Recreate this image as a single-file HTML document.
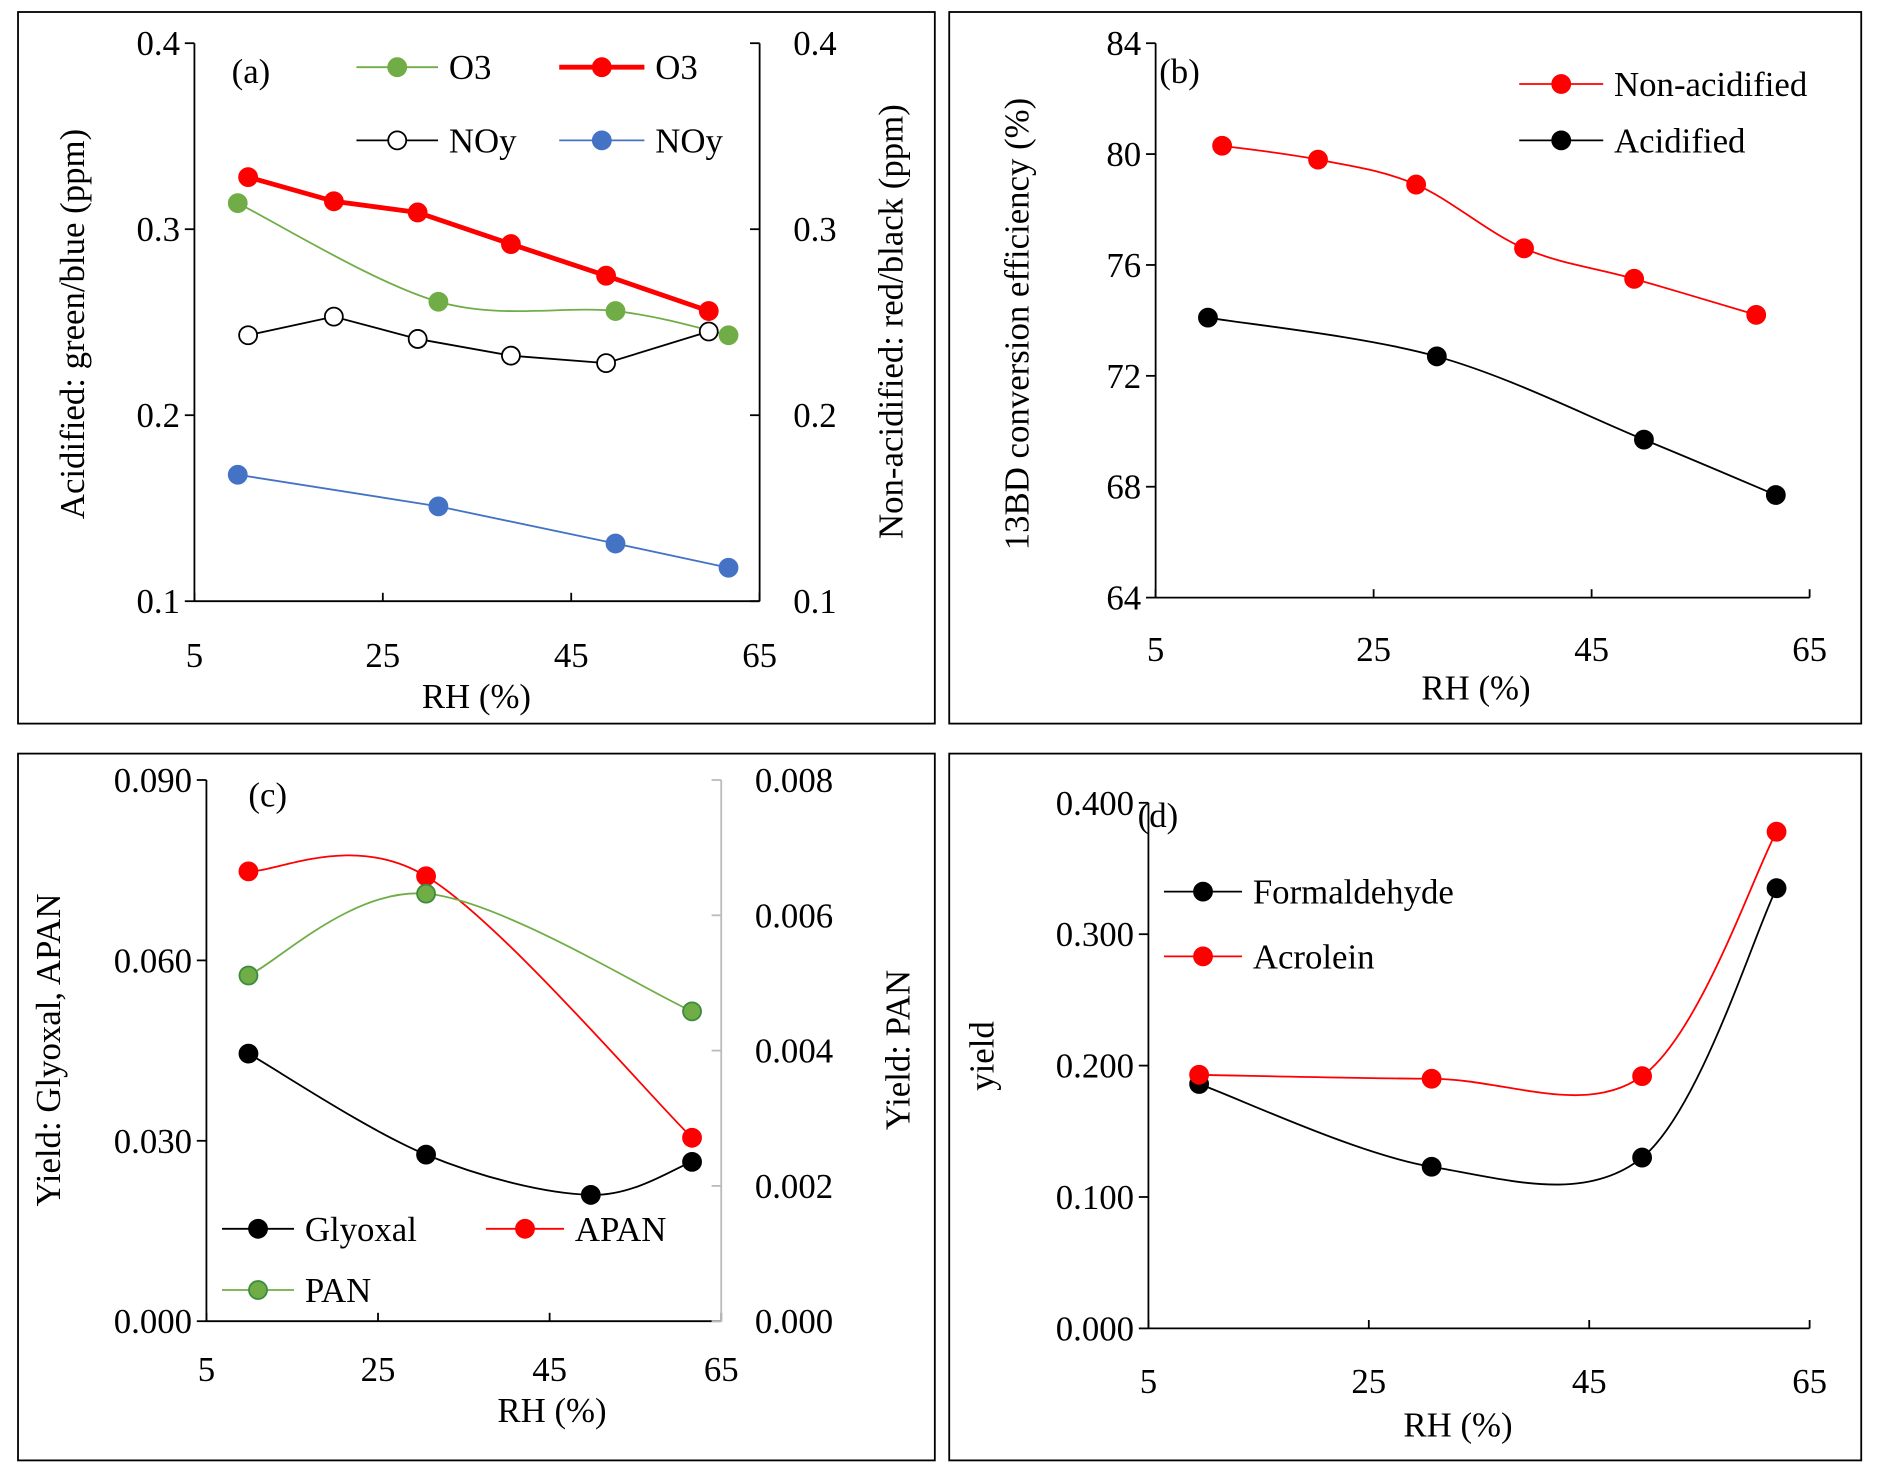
<!DOCTYPE html>
<html><head><meta charset="utf-8"><style>
html,body{margin:0;padding:0;background:#fff}
svg{display:block}
text{font-family:"Liberation Serif","Times New Roman",serif;fill:#000}
</style></head><body>
<svg id="s" width="1882" height="1479" viewBox="0 0 1568.3 1232.5" xmlns="http://www.w3.org/2000/svg"></svg>
<script>
// ---- data ----
const rhA1=[9.6,30.9,49.7,61.7];
const o3Acid=[0.314,0.261,0.256,0.243];
const noyAcid=[0.168,0.151,0.131,0.118];
const rhA2=[10.7,19.8,28.7,38.6,48.7,59.6];
const o3Non=[0.328,0.315,0.309,0.292,0.275,0.256];
const noyNon=[0.243,0.253,0.241,0.232,0.228,0.245];
const rhB1=[11.1,19.9,28.9,38.8,48.9,60.1];
const convNon=[80.3,79.8,78.9,76.6,75.5,74.2];
const rhB2=[9.8,30.8,49.8,61.9];
const convAcid=[74.1,72.7,69.7,67.7];
const rhC1=[9.9,30.6,49.8,61.6];
const glyoxal=[0.0445,0.0277,0.021,0.0265];
const rhC2=[9.9,30.6,61.6];
const apan=[0.0748,0.074,0.0305];
const pan=[0.00511,0.00632,0.00458];
const rhD=[9.6,30.7,49.8,62];
const formaldehyde=[0.186,0.123,0.130,0.335];
const acrolein=[0.193,0.190,0.192,0.378];
const xTicks=[5,25,45,65];
const yTicksA=[0.1,0.2,0.3,0.4];
const yTicksB=[64,68,72,76,80,84];
const yTicksC=[0,0.03,0.06,0.09];
const yTicksC2=[0,0.002,0.004,0.006,0.008];
const yTicksD=[0,0.1,0.2,0.3,0.4];

const S=document.getElementById('s');
const NS='http://www.w3.org/2000/svg';
const FS=29;
function mk(tag,at,parent){const e=document.createElementNS(NS,tag);for(const k in at)e.setAttribute(k,at[k]);(parent||S).appendChild(e);return e;}
function txt(x,y,s,size,anchor,rot){const t=mk('text',{x:x,y:y,'font-size':size,'text-anchor':anchor||'middle','font-family':'Liberation Serif, serif'});if(rot)t.setAttribute('transform','rotate(-90 '+x+' '+y+')');t.textContent=s;return t;}
function lin(d0,d1,r0,r1){return v=>r0+(v-d0)/(d1-d0)*(r1-r0);}
function pathD(pts,smooth){
 if(!smooth)return 'M'+pts.map(p=>p[0]+','+p[1]).join(' L');
 let d='M'+pts[0][0]+','+pts[0][1];
 for(let i=0;i<pts.length-1;i++){const p0=pts[Math.max(0,i-1)],p1=pts[i],p2=pts[i+1],p3=pts[Math.min(pts.length-1,i+2)];
  const c1=[p1[0]+(p2[0]-p0[0])/6,p1[1]+(p2[1]-p0[1])/6],c2=[p2[0]-(p3[0]-p1[0])/6,p2[1]-(p3[1]-p1[1])/6];
  d+=' C'+c1+' '+c2+' '+p2;}
 return d;}
function series(name,xs,ys,sx,sy,color,fill,sw,smooth,stroke){
 const g=mk('g',{});
 
 
 const pts=xs.map((x,i)=>[sx(x),sy(ys[i])]);
 const p=mk('path',{d:pathD(pts,smooth),fill:'none',stroke:color,'stroke-width':sw},g);
 
 
 pts.forEach(q=>{const c=mk('circle',{cx:q[0],cy:q[1],r:7.5,fill:fill,stroke:stroke||color,'stroke-width':1.5},g);
  
  });
}
function legend(name,x1,x2,y,label,color,fill,sw,stroke){
 const g=mk('g',{});
 
 
 mk('line',{x1:x1,x2:x2,y1:y,y2:y,stroke:color,'stroke-width':sw},g);
 mk('circle',{cx:(x1+x2)/2,cy:y,r:7.5,fill:fill,stroke:stroke||color,'stroke-width':1.5},g);
 const t=mk('text',{x:x2+9,y:y+10,'font-size':FS,'font-family':'Liberation Serif, serif'},g);t.textContent=label;
}
function box(name,x,y,w,h){const r=mk('rect',{x:x,y:y,width:w,height:h,fill:'none',stroke:'#000','stroke-width':1.5});}
function xAxis(sx,y0,xl,xr,ly){mk('line',{x1:xl,x2:xr,y1:y0,y2:y0,stroke:'#000','stroke-width':1.5});
 xTicks.forEach(v=>{mk('line',{x1:sx(v),x2:sx(v),y1:y0,y2:y0-7,stroke:'#000','stroke-width':1.5});txt(sx(v),ly,String(v),FS);});}
function yAxis(sy,x0,ticks,fmt,side,color){mk('line',{x1:x0,x2:x0,y1:sy(ticks[0]),y2:sy(ticks[ticks.length-1]),stroke:color||'#000','stroke-width':1.5});
 ticks.forEach(v=>{mk('line',{x1:x0,x2:x0-8,y1:sy(v),y2:sy(v),stroke:color||'#000','stroke-width':1.5});
  txt(side==='r'?x0+28:x0-12,sy(v)+10,fmt(v),FS,side==='r'?'start':'end');});}

// ---- panel a ----
box('panel-a',15,10,764,593);
let sx=lin(5,65,162,633), sy=lin(0.1,0.4,501,36);
xAxis(sx,501,162,633,556);
yAxis(sy,162,yTicksA,v=>v.toFixed(1),'l');
yAxis(sy,633,yTicksA,v=>v.toFixed(1),'r');
txt(397,590,'RH (%)',FS);
txt(70,270,'Acidified: green/blue (ppm)',FS,'middle',true);
txt(752,268,'Non-acidified: red/black (ppm)',FS,'middle',true);
txt(193,69,'(a)',FS,'start');
series('o3-acidified',rhA1,o3Acid,sx,sy,'#70ad47','#70ad47',1.5,true);
series('noy-acidified',rhA1,noyAcid,sx,sy,'#4472c4','#4472c4',1.5,false);
series('o3-nonacidified',rhA2,o3Non,sx,sy,'#ff0000','#ff0000',4,false);
series('noy-nonacidified',rhA2,noyNon,sx,sy,'#000','#fff',1.5,false);
legend('o3-acid',297,365,56,'O3','#70ad47','#70ad47',1.5);
legend('o3-non',466,537,56,'O3','#ff0000','#ff0000',4);
legend('noy-non',297,365,117,'NOy','#000','#fff',1.5);
legend('noy-acid',466,537,117,'NOy','#4472c4','#4472c4',1.5);

// ---- panel b ----
box('panel-b',791,10,760,593);
sx=lin(5,65,963,1508); sy=lin(64,84,498,36);
xAxis(sx,498,963,1508,551);
yAxis(sy,963,yTicksB,v=>String(v),'l');
txt(1230,583,'RH (%)',FS);
txt(857,270,'13BD conversion efficiency (%)',FS,'middle',true);
txt(966,69,'(b)',FS,'start');
series('non-acidified',rhB1,convNon,sx,sy,'#ff0000','#ff0000',1.5,true);
series('acidified',rhB2,convAcid,sx,sy,'#000','#000',1.5,true);
legend('non-acidified',1266,1336,70,'Non-acidified','#ff0000','#ff0000',1.5);
legend('acidified',1266,1336,117,'Acidified','#000','#000',1.5);

// ---- panel c ----
box('panel-c',15,628,764,589);
sx=lin(5,65,172,601); sy=lin(0,0.09,1101,650); const sy2=lin(0,0.008,1101,650);
xAxis(sx,1101,172,601,1151);
yAxis(sy,172,yTicksC,v=>v.toFixed(3),'l');
yAxis(sy2,601,yTicksC2,v=>v.toFixed(3),'r','#bbb');
txt(460,1185,'RH (%)',FS);
txt(50,875,'Yield: Glyoxal, APAN',FS,'middle',true);
txt(758,875,'Yield: PAN',FS,'middle',true);
txt(207,672,'(c)',FS,'start');
series('glyoxal',rhC1,glyoxal,sx,sy,'#000','#000',1.5,true);
series('apan',rhC2,apan,sx,sy,'#ff0000','#ff0000',1.5,true);
series('pan',rhC2,pan,sx,sy2,'#70ad47','#70ad47',1.5,true,'#3d8b3d');
legend('glyoxal',185,245,1024,'Glyoxal','#000','#000',1.5);
legend('apan',405,470,1024,'APAN','#ff0000','#ff0000',1.5);
legend('pan',185,245,1075,'PAN','#70ad47','#70ad47',1.5,'#3d8b3d');

// ---- panel d ----
box('panel-d',791,628,760,589);
sx=lin(5,65,957,1508); sy=lin(0,0.4,1107,669);
xAxis(sx,1107,957,1508,1161);
yAxis(sy,957,yTicksD,v=>v.toFixed(3),'l');
txt(1215,1197,'RH (%)',FS);
txt(828,880,'yield',FS,'middle',true);
txt(948,689,'(d)',FS,'start');
series('formaldehyde',rhD,formaldehyde,sx,sy,'#000','#000',1.5,true);
series('acrolein',rhD,acrolein,sx,sy,'#ff0000','#ff0000',1.5,true);
legend('formaldehyde',970,1035,743,'Formaldehyde','#000','#000',1.5);
legend('acrolein',970,1035,797,'Acrolein','#ff0000','#ff0000',1.5);
</script>
</body></html>
